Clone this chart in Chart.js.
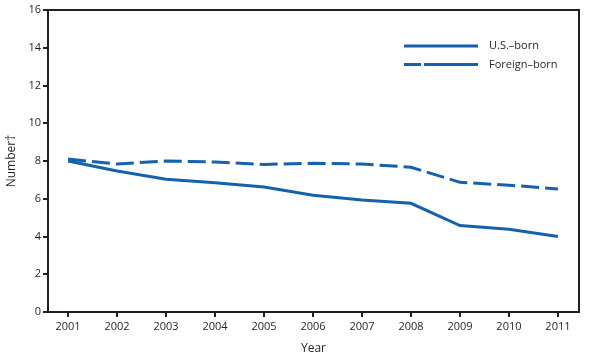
<!DOCTYPE html>
<html>
<head>
<meta charset="utf-8">
<script src="https://cdn.jsdelivr.net/npm/chart.js@4"></script>
<style>
  html, body { margin: 0; padding: 0; background: #fff; }
  #wrap { width: 597px; height: 360px; }
</style>
</head>
<body>
<div id="wrap"><canvas id="chart"></canvas></div>
<script>
// Data
const years = [2001, 2002, 2003, 2004, 2005, 2006, 2007, 2008, 2009, 2010, 2011];
const usBorn = [8.0, 7.47, 7.03, 6.85, 6.62, 6.18, 5.93, 5.76, 4.58, 4.38, 4.0];
const foreignBorn = [8.1, 7.84, 8.0, 7.95, 7.82, 7.88, 7.84, 7.67, 6.87, 6.72, 6.52];
const yTicks = [0, 2, 4, 6, 8, 10, 12, 14, 16];

const blue = '#1461ad';
const ink = '#231f20';
const font = { family: 'Open Sans', size: 11 };

// frame + legend drawn inside the plot area
const framePlugin = {
    id: 'frame',
    afterDraw(chart) {
        const ctx = chart.ctx;
        const a = chart.chartArea;
        ctx.save();
        ctx.strokeStyle = ink;
        ctx.lineWidth = 2;
        ctx.beginPath();
        ctx.moveTo(a.left, a.top);
        ctx.lineTo(a.right, a.top);
        ctx.lineTo(a.right, a.bottom);
        ctx.stroke();

        const items = [
            { text: 'U.S.\u2013born', dash: [] },
            { text: 'Foreign\u2013born', dash: [17, 3, 55] }
        ];
        ctx.font = '11px "Open Sans"';
        ctx.textBaseline = 'middle';
        items.forEach((it, i) => {
            const y = 46 + i * 18.5;
            ctx.strokeStyle = blue;
            ctx.lineWidth = 3;
            ctx.setLineDash(it.dash);
            ctx.beginPath();
            ctx.moveTo(404, y);
            ctx.lineTo(478, y);
            ctx.stroke();
            ctx.setLineDash([]);
            ctx.fillStyle = ink;
            ctx.fillText(it.text, 489, y);
        });
        ctx.restore();
    }
};

new Chart(document.getElementById('chart'), {
    type: 'line',
    data: {
        datasets: [{
            label: 'U.S.\u2013born',
            data: years.map((y, i) => ({ x: y, y: usBorn[i] })),
            borderColor: blue,
            borderWidth: 3,
            pointRadius: 0,
            fill: false
        }, {
            label: 'Foreign\u2013born',
            data: years.map((y, i) => ({ x: y, y: foreignBorn[i] })),
            borderColor: blue,
            borderWidth: 3,
            borderDash: [18, 6],
            pointRadius: 0,
            fill: false
        }]
    },
    options: {
        responsive: true,
        maintainAspectRatio: false,
        animation: false,
        layout: { padding: { top: 10, right: 18, left: 0, bottom: 0 } },
        plugins: {
            legend: { display: false },
            tooltip: { enabled: false }
        },
        scales: {
            x: {
                type: 'linear',
                min: 2000.59,
                max: 2011.43,
                afterBuildTicks: (scale) => { scale.ticks = years.map(v => ({ value: v })); },
                afterFit: (scale) => { scale.height = 48; },
                ticks: {
                    color: ink,
                    font: font,
                    padding: 3,
                    callback: (v) => String(v)
                },
                grid: { display: true, drawOnChartArea: false, tickLength: 5, color: ink, lineWidth: 2 },
                border: { color: ink, width: 2 },
                title: { display: true, text: 'Year', color: ink, font: { family: 'Open Sans', size: 12 }, padding: { top: 6 } }
            },
            y: {
                min: 0,
                max: 16,
                afterBuildTicks: (scale) => { scale.ticks = yTicks.map(v => ({ value: v })); },
                afterFit: (scale) => { scale.width = 48; },
                ticks: { color: ink, font: font, padding: 2 },
                grid: { display: true, drawOnChartArea: false, tickLength: 5, color: ink, lineWidth: 2 },
                border: { color: ink, width: 2 },
                title: { display: true, text: 'Number\u2020', color: ink, font: { family: 'Open Sans', size: 12 }, padding: { bottom: 4 } }
            }
        }
    },
    plugins: [framePlugin]
});
</script>
</body>
</html>
